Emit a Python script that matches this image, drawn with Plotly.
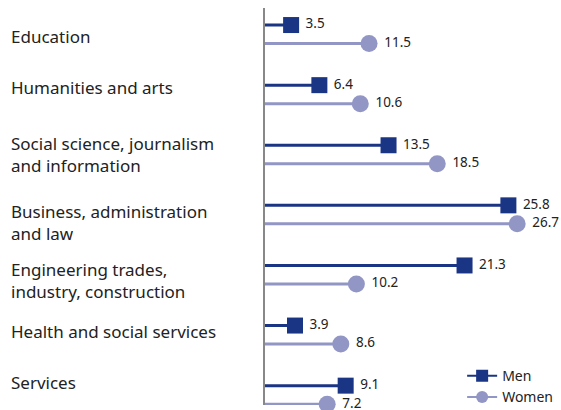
import plotly.graph_objects as go

categories = [
    "Education",
    "Humanities and arts",
    "Social science, journalism<br>and information",
    "Business, administration<br>and law",
    "Engineering trades,<br>industry, construction",
    "Health and social services",
    "Services",
]
men = [3.5, 6.4, 13.5, 25.8, 21.3, 3.9, 9.1]
women = [11.5, 10.6, 18.5, 26.7, 10.2, 8.6, 7.2]

# label vertical nudges in pixels (styling only)
label_shift = [-2, 7, 0, -8, -6, 3, 12]

MEN_COLOR = "#1b3585"
WOMEN_COLOR = "#9296c5"
FONT = "Noto Sans"
OFF = 0.154

fig = go.Figure()

def add_series(vals, sign, color, symbol, size, name):
    xs, ys = [], []
    for i, v in enumerate(vals):
        xs += [0, v, None]
        ys += [i + sign * OFF, i + sign * OFF, None]
    fig.add_trace(go.Scatter(x=xs, y=ys, mode="lines",
                             line=dict(color=color, width=3),
                             showlegend=False, hoverinfo="skip"))
    fig.add_trace(go.Scatter(
        x=vals, y=[i + sign * OFF for i in range(len(vals))],
        mode="markers+text",
        marker=dict(color=color, symbol=symbol, size=size),
        text=[f" {v:.1f}" for v in vals], textposition="middle right",
        textfont=dict(size=13.5, color="#222", family=FONT),
        showlegend=False, cliponaxis=False))
    fig.add_trace(go.Scatter(x=[None], y=[None], mode="lines+markers",
                             line=dict(color=color, width=2),
                             marker=dict(color=color, symbol=symbol, size=12),
                             name=name))

add_series(men, -1, MEN_COLOR, "square", 16, "Men")
add_series(women, 1, WOMEN_COLOR, "circle", 17, "Women")

for i, c in enumerate(categories):
    fig.add_annotation(x=-0.865, xref="paper", xanchor="left", y=i, yref="y",
                       yshift=label_shift[i],
                       text=c, showarrow=False, align="left",
                       font=dict(size=17, color="#222", family=FONT))

fig.update_layout(
    width=561, height=410,
    margin=dict(l=265, r=0, t=8, b=5, autoexpand=False),
    plot_bgcolor="white", paper_bgcolor="white",
    font=dict(family=FONT, color="#222"),
    xaxis=dict(range=[0.82, 31.2], visible=False),
    yaxis=dict(range=[6.168, -0.4376], showline=True, linecolor="#888",
               linewidth=1.5, showticklabels=False, showgrid=False,
               zeroline=False, ticks=""),
    legend=dict(x=0.666, y=0.113, xanchor="left", yanchor="top",
                font=dict(size=14, color="#222", family=FONT),
                bgcolor="rgba(0,0,0,0)", tracegroupgap=0, itemwidth=30),
    showlegend=True,
)

fig.write_html("out.html", config={"displayModeBar": False},
               post_script="document.body.style.margin='0';document.body.style.padding='0';")
